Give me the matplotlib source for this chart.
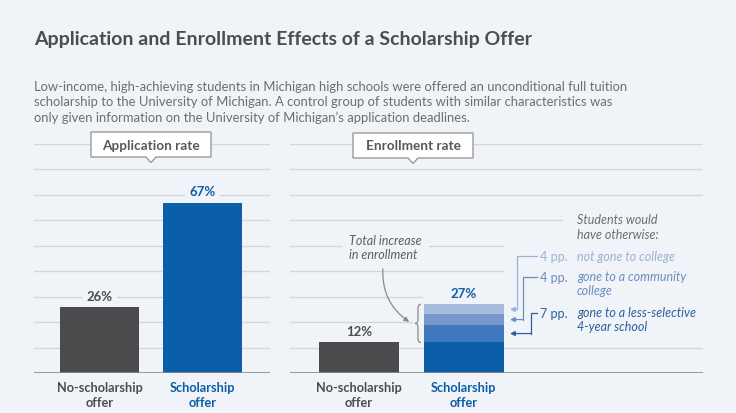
import matplotlib.pyplot as plt
from matplotlib.patches import Polygon, PathPatch, FancyArrowPatch
from matplotlib.path import Path

plt.rcParams['font.family'] = ['Lato', 'DejaVu Sans']

# data
groups = ["No-scholarship\noffer", "Scholarship\noffer"]
application = [26, 67]
enrollment = [12, 27]
# scholarship enrollment split: base + students who would otherwise have ...
enroll_parts = [12, 7, 4, 4]
part_pp = ["7 pp.", "4 pp.", "4 pp."]
part_text = ["gone to a less-selective\n4-year school", "gone to a community\ncollege", "not gone to college"]

BG = "#f0f4f9"
GRID = "#d3d7dc"
GRAY = "#4b4b4d"
BLUE = "#0b5ea8"
TXT = "#4d4d4f"
SUB = "#6d6d70"
part_colors = ["#0b5ea8", "#3f78bd", "#7998ca", "#a7bbdc"]
pp_colors = ["#2c5f9c", "#6b8dbf", "#9cb1d2"]

W, H = 736, 414
fig = plt.figure(figsize=(W / 100, H / 100), dpi=100)
fig.patch.set_facecolor(BG)


def fx(px):
    return px / W


def fy(py):
    return 1 - py / H


fig.text(fx(34), fy(40), "Application and Enrollment Effects of a Scholarship Offer",
         fontsize=14, weight="bold", color=TXT, va="center")
sub = ["Low-income, high-achieving students in Michigan high schools were offered an unconditional full tuition",
       "scholarship to the University of Michigan. A control group of students with similar characteristics was",
       "only given information on the University of Michigan's application deadlines."]
for i, s in enumerate(sub):
    fig.text(fx(34), fy(87 + 15.3 * i), s.replace("'", "\u2019"), fontsize=9.4, color=SUB, va="center")

ax1 = fig.add_axes([fx(34), fy(374), 236 / W, 229 / H])
ax2 = fig.add_axes([fx(290), fy(374), 413 / W, 229 / H])
for ax in (ax1, ax2):
    ax.set_ylim(0, 90)
    ax.axis("off")
ax1.set_xlim(-0.636, 1.655)
ax2.set_xlim(-0.657, 3.276)

# gridlines
for y in range(10, 100, 10):
    ax1.axhline(y, color=GRID, lw=1, zorder=0)
ax1.axhline(0, color="#8a8a8c", lw=1.2, zorder=3)
right_ext = {90: 1, 80: 1, 70: 1, 60: 0.659, 50: 0.516, 40: 0.516, 30: 0.32, 20: 0.295, 10: 1}
for y, xm in right_ext.items():
    ax2.axhline(y, xmax=xm, color=GRID, lw=1, zorder=0)
ax2.axhline(0, color="#8a8a8c", lw=1.2, zorder=3)

# application bars
ax1.bar([0, 1], application, width=0.767, color=[GRAY, BLUE], zorder=2)
lab_colors = [TXT, BLUE]
for i, v in enumerate(application):
    ax1.annotate(f"{v}%", (i, v), xytext=(0, 8), textcoords="offset points",
                 ha="center", va="center", fontsize=9.5, weight="bold", color=lab_colors[i],
                 bbox=dict(boxstyle="square,pad=0.35", fc=BG, ec="none"))

# enrollment bars
ax2.bar(0, enrollment[0], width=0.762, color=GRAY, zorder=2)
bottom = 0
for v, c in zip(enroll_parts, part_colors):
    ax2.bar(1, v, bottom=bottom, width=0.762, color=c, zorder=2)
    bottom += v
for i, v in enumerate(enrollment):
    ax2.annotate(f"{v}%", (i, v), xytext=(0, 8), textcoords="offset points",
                 ha="center", va="center", fontsize=9.5, weight="bold", color=lab_colors[i])

for ax in (ax1, ax2):
    for i, g in enumerate(groups):
        ax.annotate(g, (i, 0), xytext=(0, -5.5), textcoords="offset points",
                    ha="center", va="top", fontsize=9.2, weight="bold",
                    color=lab_colors[i], linespacing=1.3, annotation_clip=False)

# panel title boxes
def label_box(x0, x1, y0, y1, tip, text):
    cx = (x0 + x1) / 2
    pts = [(x0, y0), (x1, y0), (x1, y1), (cx + 5, y1), (cx, y1 + tip), (cx - 5, y1), (x0, y1)]
    fig.add_artist(Polygon([(fx(a), fy(b)) for a, b in pts], closed=True,
                           fc="white", ec="#9a9a9c", lw=1, transform=fig.transFigure, zorder=5))
    fig.text(fx(cx), fy((y0 + y1) / 2), text, ha="center", va="center",
             fontsize=9.8, weight="bold", color="#59595b", zorder=6)


label_box(91, 211, 133, 158, 5.5, "Application rate")
label_box(353, 473, 134, 159, 5.5, "Enrollment rate")

# brace around the increase
xr, xm, xt = 0.59, 0.562, 0.533
lo, hi = enroll_parts[0], enrollment[1]
mid = (lo + hi) / 2
verts = [(xr, hi), (xm, hi), (xm, hi - 1.5), (xm, mid + 1.5), (xm, mid), (xt, mid),
         (xm, mid), (xm, mid - 1.5), (xm, lo + 1.5), (xm, lo), (xr, lo)]
codes = [Path.MOVETO, Path.CURVE3, Path.CURVE3, Path.LINETO, Path.CURVE3, Path.CURVE3,
         Path.CURVE3, Path.CURVE3, Path.LINETO, Path.CURVE3, Path.CURVE3]
ax2.add_patch(PathPatch(Path(verts, codes), fc="none", ec="#8a8a8c", lw=0.9, zorder=3))

ax2.text(-0.095, 49.5, "Total increase\nin enrollment", ha="left", va="center", style="italic",
         fontsize=9, color="#5d5d60", linespacing=1.25, zorder=4,
         bbox=dict(boxstyle="square,pad=0.6", fc=BG, ec="none"))
ax2.add_patch(FancyArrowPatch((0.229, 42), (0.5, mid), connectionstyle="arc3,rad=0.3",
                              arrowstyle="-|>", mutation_scale=7, color="#8a8a8c", lw=0.9, zorder=4))

# breakdown annotations
ax2.text(2.076, 57.5, "Students would\nhave otherwise:", ha="left", va="center", style="italic",
         fontsize=9, color="#6d6d70", linespacing=1.25)
row_y = [23.6, 37.7, 46.0]
vert_x = [1.638, 1.562, 1.505]
seg_mid = []
b = enroll_parts[0]
for v in enroll_parts[1:]:
    seg_mid.append(b + v / 2)
    b += v
for k in range(3):
    c = pp_colors[k]
    two = "\n" in part_text[k]
    ax2.text(1.99, row_y[k], part_pp[k], ha="right", va="center", fontsize=9, color=c)
    ax2.text(2.076, row_y[k] + (2.9 if two else 0), part_text[k], ha="left",
             va="top" if two else "center",
             style="italic", fontsize=9, color=c, linespacing=1.25)
    ax2.plot([1.695, vert_x[k], vert_x[k]], [row_y[k], row_y[k], seg_mid[k]], color=c, lw=0.9)
    ax2.annotate("", xy=(1.438, seg_mid[k]), xytext=(vert_x[k], seg_mid[k]),
                 arrowprops=dict(arrowstyle="-|>", color=c, lw=0.9, mutation_scale=7,
                                 shrinkA=0, shrinkB=0))

fig.savefig("out.png", dpi=100, facecolor=BG)
